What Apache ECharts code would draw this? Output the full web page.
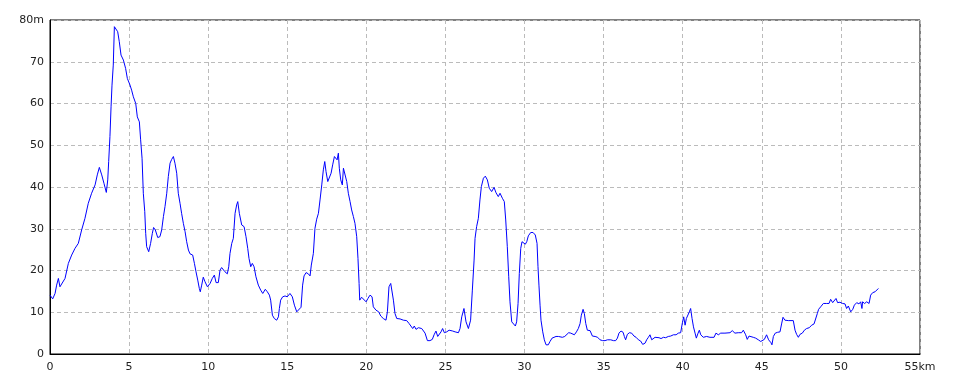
<!DOCTYPE html>
<html>
<head>
<meta charset="utf-8">
<script src="https://cdn.jsdelivr.net/npm/echarts@6/dist/echarts.min.js"></script>
<style>html,body{margin:0;padding:0;background:#fff}#c{width:960px;height:384px}</style>
</head>
<body>
<div id="c"></div>
<script>
const distanceKm = [
0,0.17,0.32,0.42,0.53,0.63,0.74,0.95,1.16,1.37,1.58,1.79,2.0,2.21,2.42,2.63,2.85,2.99,3.12,3.27,3.41,3.56,3.65,3.71,3.79,3.86,3.92,4.0,4.07,4.17,4.28,4.38,4.49,4.64,4.78,4.89,5.06,5.16,5.27,5.42,5.52,5.65,5.73,5.82,5.90,5.99,6.05,6.11,6.24,6.36,6.47,6.55,6.66,6.81,6.95,7.06,7.17,7.27,7.38,7.48,7.59,7.69,7.80,7.90,8.01,8.11,8.22,8.32,8.43,8.54,8.64,8.75,8.85,9.02,9.13,9.23,9.34,9.44,9.5,9.59,9.69,9.8,9.95,10.12,10.26,10.39,10.50,10.64,10.75,10.85,10.96,11.06,11.21,11.30,11.38,11.49,11.59,11.70,11.80,11.87,11.97,
12.12,12.27,12.39,12.5,12.58,12.69,12.79,12.9,13.02,13.17,13.32,13.45,13.61,13.74,13.87,13.95,14.06,14.18,14.33,14.44,14.5,14.58,14.71,14.86,15.0,15.17,15.32,15.45,15.6,15.72,15.87,15.97,16.06,16.19,16.33,16.44,16.52,16.65,16.75,16.86,16.97,17.07,17.18,17.28,17.37,17.45,17.56,17.66,17.77,17.87,17.98,18.08,18.15,18.23,18.29,18.38,18.48,18.55,18.67,18.76,18.86,18.97,19.07,19.18,19.28,19.39,19.47,19.54,19.58,19.7,19.81,19.98,20.1,20.23,20.36,20.44,20.61,20.78,20.91,21.07,21.24,21.33,21.43,21.54,21.6,21.71,21.81,21.92,22.13,22.34,22.55,22.7,22.82,22.93,23.03,23.14,23.29,23.5,23.6,23.71,23.86,24.02,24.17,24.28,24.4,24.51,24.61,24.72,24.82,24.93,25.08,25.23,25.35,25.46,25.61,25.71,25.82,25.92,
26.03,26.17,26.3,26.45,26.59,26.7,26.81,26.87,26.97,27.08,27.18,27.27,27.4,27.52,27.65,27.77,27.92,28.07,28.2,28.34,28.45,28.6,28.72,28.81,28.91,29.0,29.08,29.19,29.29,29.42,29.5,29.59,29.67,29.76,29.84,29.95,30.05,30.14,30.24,30.39,30.54,30.68,30.79,30.85,30.91,30.98,31.04,31.15,31.25,31.36,31.5,31.61,31.74,31.86,31.99,32.14,32.24,32.39,32.54,32.66,32.79,32.92,33.02,33.15,33.28,33.4,33.51,33.59,33.7,33.78,33.87,33.97,34.14,34.29,34.46,34.62,34.77,34.94,35.09,35.24,35.34,35.45,35.53,35.62,35.76,35.87,35.97,36.1,36.23,36.31,36.39,36.5,36.63,36.77,36.92,37.05,37.2,37.34,37.47,37.62,37.72,37.83,37.93,38.04,38.14,38.25,38.35,38.5,38.63,38.78,38.92,39.09,39.24,39.41,39.58,39.72,39.87,39.98,40.06,40.15,40.23,40.31,40.42,40.5,40.59,40.68,40.78,40.86,40.97,41.05,41.14,
41.3,41.51,41.72,41.98,42.1,42.25,42.4,42.67,42.99,43.13,43.3,43.51,43.72,43.83,43.89,43.98,44.08,44.19,44.31,44.46,44.61,44.78,44.93,45.05,45.16,45.3,45.43,45.58,45.64,45.73,45.85,46.0,46.15,46.25,46.34,46.46,46.67,46.99,47.1,47.2,47.31,47.41,47.56,47.69,47.83,48.0,48.15,48.3,48.42,48.51,48.59,48.72,48.89,49.1,49.25,49.35,49.48,49.58,49.69,49.79,49.94,50.11,50.26,50.36,50.47,50.62,50.75,50.85,51.0,51.14,51.25,51.33,51.37,51.5,51.63,51.78,51.88,52.01,52.16,52.26,52.37
];
const elevationM = [
14.1,13.2,14.5,16.5,18.1,16.1,16.5,18.1,21.7,23.7,25.3,26.5,29.7,32.5,36.1,38.5,40.5,42.9,44.7,42.9,40.9,38.7,41.7,46.1,52.1,59.2,64.4,69.2,78.4,78.4,77.2,74.8,71.6,70.4,68.4,66.0,64.4,63.2,61.6,60.0,56.8,55.6,51.3,46.9,38.5,34.1,28.9,25.7,24.5,26.5,28.9,30.3,29.7,27.9,28.1,29.7,32.9,35.3,38.5,42.5,45.7,46.6,47.3,45.7,43.3,38.5,36.1,33.7,31.3,29.3,26.9,24.9,24.0,23.7,21.7,19.7,17.7,15.7,14.9,16.5,18.4,17.3,16.1,16.9,18.1,18.9,17.1,17.1,20.1,20.7,20.5,19.7,19.2,20.9,24.1,26.5,27.7,33.7,35.7,36.5,33.7,
30.9,30.5,28.1,25.3,22.9,20.9,21.7,20.9,18.5,16.5,15.3,14.5,15.5,14.9,14.1,12.9,9.3,8.5,8.1,8.9,10.9,12.9,13.7,13.9,13.7,14.5,13.7,11.7,10.1,10.5,11.2,16.5,18.7,19.5,19.2,18.7,21.3,24.1,30.1,32.3,33.7,36.9,40.5,44.1,46.1,43.7,41.3,40.9,43.3,45.3,47.3,47.4,46.5,48.1,44.5,41.7,40.5,44.5,44.9,41.3,38.5,36.5,34.5,32.9,31.3,28.1,22.9,16.9,12.9,13.6,13.3,12.5,13.3,14.1,13.7,11.3,10.5,10.1,9.1,8.5,8.1,10.1,16.1,16.9,17.3,12.9,9.7,8.5,8.4,8.1,8.0,7.3,6.9,6.1,6.7,5.9,6.3,6.1,5.7,5.0,3.2,3.2,3.5,4.6,5.5,4.2,4.6,5.3,6.1,5.1,5.3,5.7,6.0,5.5,5.3,5.6,5.1,6.1,
8.9,10.9,7.7,6.1,8.1,15.3,22.5,27.7,30.5,32.5,36.9,40.1,42.1,42.6,41.7,39.7,38.9,39.9,38.6,37.7,38.5,37.3,36.5,32.1,25.7,18.5,12.5,7.7,7.3,6.7,7.7,12.1,19.3,25.3,26.9,27.3,26.3,26.9,28.3,29.1,29.1,28.5,26.5,20.9,16.5,11.7,8.1,5.3,3.4,2.2,2.2,3.0,3.8,3.4,4.2,4.2,4.6,4.0,4.2,4.6,5.1,5.0,5.3,4.6,5.3,6.1,7.3,9.3,10.7,9.7,7.3,5.7,5.6,4.3,4.2,4.0,3.4,3.2,3.2,3.4,3.8,3.4,3.8,3.2,3.2,3.8,5.0,5.5,5.2,4.2,3.4,4.7,5.1,5.0,4.3,4.0,3.4,3.1,2.3,2.6,3.4,4.0,4.6,3.4,3.4,4.0,3.8,3.9,3.7,4.0,3.9,4.2,4.3,4.6,4.6,5.0,5.1,7.5,8.9,6.9,8.5,8.9,10.1,10.9,8.5,6.5,5.0,3.8,5.0,5.7,4.6,
4.0,4.2,4.0,4.0,5.0,4.6,5.0,5.0,5.1,5.6,5.0,5.1,5.1,5.7,5.9,4.6,3.5,4.3,4.2,4.0,3.8,3.4,3.0,3.4,3.5,4.6,3.4,2.7,2.2,4.2,5.0,5.2,5.3,7.2,8.8,8.1,8.0,8.0,5.7,4.7,4.0,4.7,5.0,5.7,6.1,6.3,6.9,7.2,7.5,9.7,10.7,11.3,12.1,12.1,12.1,13.1,12.3,12.5,13.3,12.3,12.4,12.1,12.0,10.9,11.5,10.1,10.7,11.7,12.3,12.0,12.5,10.9,12.5,12.1,12.5,12.1,14.1,14.7,14.9,15.1,15.7
];
const xTicks = [0,5,10,15,20,25,30,35,40,45,50,55];
const yTicks = [0,10,20,30,40,50,60,70,80];
const xUnit = 'km';
const yUnit = 'm';

const points = distanceKm.map((d, i) => [d, elevationM[i]]);
const chart = echarts.init(document.getElementById('c'), null, {renderer: 'canvas'});
const labelStyle = {color: '#222', fontFamily: 'DejaVu Sans', fontSize: 11};
chart.setOption({
  animation: false,
  backgroundColor: '#fff',
  grid: {left: 50, right: 40, top: 20, bottom: 30, show: true, borderColor: '#000', borderWidth: 1, backgroundColor: 'transparent'},
  xAxis: {
    type: 'value', min: xTicks[0], max: xTicks[xTicks.length - 1], interval: 5,
    axisLine: {show: true, lineStyle: {color: '#000', width: 1}},
    axisTick: {show: false},
    axisLabel: Object.assign({margin: 8, formatter: v => v === xTicks[xTicks.length - 1] ? v + xUnit : String(v)}, labelStyle),
    splitLine: {show: true, lineStyle: {color: '#bbb', type: [4, 3], width: 1}}
  },
  yAxis: {
    type: 'value', min: yTicks[0], max: yTicks[yTicks.length - 1], interval: 10,
    axisLine: {show: true, lineStyle: {color: '#000', width: 1}},
    axisTick: {show: false},
    axisLabel: Object.assign({margin: 6, formatter: v => v === yTicks[yTicks.length - 1] ? v + yUnit : String(v)}, labelStyle),
    splitLine: {show: true, lineStyle: {color: '#bbb', type: [4, 3], width: 1}}
  },
  series: [{
    type: 'line', data: points, showSymbol: false, symbol: 'none',
    lineStyle: {color: '#0000ff', width: 1}, z: 3
  }]
});
</script>
</body>
</html>
